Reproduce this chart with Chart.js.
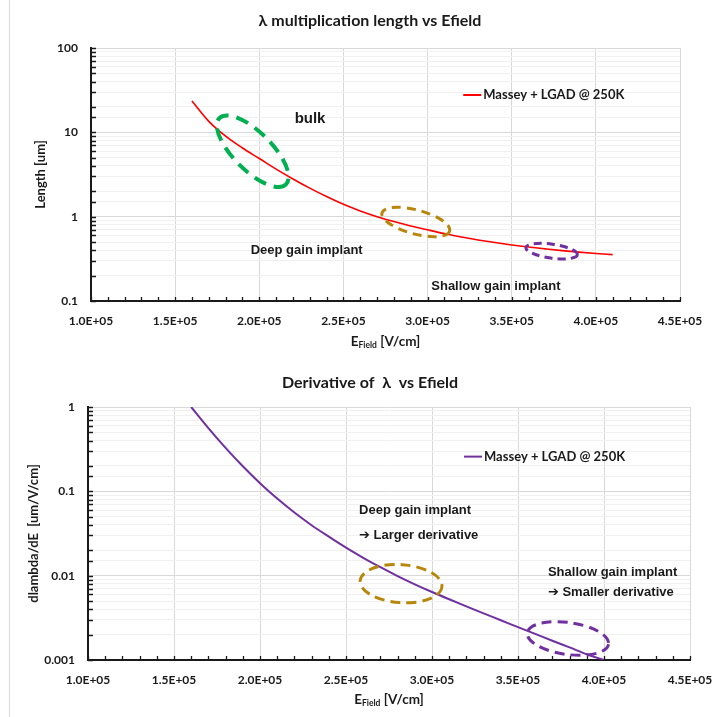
<!DOCTYPE html>
<html lang="en">
<head>
  <meta charset="UTF-8" />
  <title>Lambda multiplication length vs Efield</title>
  <script src="https://cdn.jsdelivr.net/npm/chart.js@4.4.1/dist/chart.umd.min.js"></script>
  <style>
    * { box-sizing: border-box; margin: 0; padding: 0; }
    body { width: 712px; height: 717px; background: #fff; position: relative; overflow: hidden; }
    .edge { position: absolute; left: 9px; top: 0; width: 1px; height: 717px; background: #d9d9d9; }
    .box { position: absolute; left: 0; width: 712px; }
    #topBox { top: 0; height: 360px; }
    #bottomBox { top: 360px; height: 357px; }
  </style>
</head>
<body>
  <div class="edge"></div>
  <div class="box" id="topBox"><canvas id="lenChart"></canvas></div>
  <div class="box" id="bottomBox"><canvas id="derivChart"></canvas></div>

  <script>
    // --- values ---
    const eFieldLen = [160000, 170000, 180000, 190000, 200000, 210000, 220000, 230000, 240000,
      250000, 260000, 270000, 280000, 290000, 300000, 310000, 320000, 330000, 340000,
      350000, 360000, 370000, 380000, 390000, 400000, 410000];
    const lambdaLen = [23.5, 13.5, 9.0, 6.52, 4.89, 3.66, 2.8, 2.18, 1.73,
      1.4, 1.17, 1.0, 0.875, 0.776, 0.698, 0.63, 0.574, 0.53, 0.493,
      0.462, 0.436, 0.415, 0.396, 0.38, 0.366, 0.355];

    const eFieldDeriv = [160000, 170000, 180000, 190000, 200000, 210000, 220000, 230000, 240000,
      250000, 260000, 270000, 280000, 290000, 300000, 310000, 320000, 330000, 340000,
      350000, 360000, 370000, 380000, 390000, 400000];
    const dLambdaDE = [1.0, 0.562, 0.327, 0.198, 0.125, 0.082, 0.056, 0.0396, 0.029,
      0.0215, 0.0163, 0.0126, 0.0099, 0.0079, 0.0064, 0.00525, 0.00433, 0.00357, 0.00296,
      0.00245, 0.00204, 0.00169, 0.00141, 0.00117, 0.001];

    const xRange = [100000, 450000];
    const lenRange = [0.1, 100];
    const derivRange = [0.001, 1];
    const seriesName = 'Massey + LGAD @ 250K';

    // --- shared styling ---
    const INK = '#1a1a1a';
    const LATO = 'Lato, "DejaVu Sans", sans-serif';
    const ARIAL = '"Liberation Sans", Arial, "DejaVu Sans", sans-serif';

    const isDecade = v => Math.abs(Math.log10(v) - Math.round(Math.log10(v))) < 1e-9;
    const fmtE = v => (v / 1e5).toFixed(1) + 'E+05';

    function xScale(h) {
      return {
        type: 'linear', min: xRange[0], max: xRange[1],
        // fixed height, and no extra room for the end labels
        afterFit: s => { s.height = h; s.paddingLeft = 0; s.paddingRight = 0; },
        border: { display: true, color: INK, width: 2 },
        grid: { color: '#d9d9d9', drawTicks: false },
        ticks: { stepSize: 50000, padding: 13, color: INK, maxRotation: 0, autoSkip: false,
          font: { family: LATO, size: 12, weight: 'bold' }, callback: v => fmtE(v) }
      };
    }

    function yScale(range, title, w) {
      return {
        type: 'logarithmic', min: range[0], max: range[1],
        afterFit: s => { s.width = w; s.paddingTop = 0; s.paddingBottom = 0; },
        border: { display: true, color: INK, width: 2 },
        grid: { drawTicks: false, color: c => (c.tick && !isDecade(c.tick.value)) ? '#f0f0f0' : '#d9d9d9' },
        ticks: { autoSkip: false, padding: 13, color: INK,
          font: { family: LATO, size: 12, weight: 'bold' },
          callback: v => isDecade(v) ? String(+v.toPrecision(3)) : '' },
        title: { display: true, text: title, color: INK, padding: { top: 4, bottom: 4 },
          font: { family: LATO, size: 13, weight: 'bold' } }
      };
    }

    // titles, legend, notes, dashed ellipses, inner tick marks
    const decor = {
      id: 'decor',
      afterDraw(chart) {
        const o = chart.options.plugins.decor;
        const { ctx, chartArea: a, scales: { x, y } } = chart;
        const px = v => x.getPixelForValue(v);
        const py = v => y.getPixelForValue(v);
        ctx.save();

        // inward tick marks
        ctx.strokeStyle = INK; ctx.lineWidth = 1.3; ctx.setLineDash([]);
        ctx.beginPath();
        y.ticks.forEach(t => {
          const yy = Math.round(py(t.value)) + 0.5;
          ctx.moveTo(a.left, yy); ctx.lineTo(a.left + 5, yy);
        });
        for (let v = xRange[0]; v <= xRange[1] + 1; v += o.minorStep) {
          const xx = Math.round(px(v)) + 0.5;
          ctx.moveTo(xx, a.bottom); ctx.lineTo(xx, a.bottom - 4);
        }
        ctx.stroke();

        // dashed ellipses
        o.ellipses.forEach(e => {
          ctx.beginPath();
          ctx.strokeStyle = e.color; ctx.lineWidth = e.width; ctx.setLineDash(e.dash);
          ctx.ellipse(px(e.x), py(e.y), e.rx, e.ry, e.rot * Math.PI / 180, 0, Math.PI * 2);
          ctx.stroke();
        });
        ctx.setLineDash([]);

        // chart title
        ctx.fillStyle = INK;
        ctx.textAlign = 'center'; ctx.textBaseline = 'middle';
        ctx.font = 'bold 16px ' + LATO;
        ctx.fillText(o.title, o.titleX, o.titleY);

        // text notes
        ctx.textAlign = 'left';
        o.notes.forEach(n => {
          ctx.font = 'bold ' + n.size + 'px ' + ARIAL;
          ctx.fillText(n.text, px(n.x), py(n.y));
        });

        // legend
        const ds = chart.data.datasets[0];
        const lx = px(o.legend.x), ly = py(o.legend.y);
        ctx.strokeStyle = ds.borderColor; ctx.lineWidth = 2;
        ctx.beginPath(); ctx.moveTo(lx, ly); ctx.lineTo(lx + 18, ly); ctx.stroke();
        ctx.font = 'bold 13px ' + LATO;
        ctx.fillText(ds.label, lx + 20, ly);

        // x axis title with subscript
        const parts = [['E', 'bold 13.5px ', 0], ['Field', 'bold 8.5px ', 3], [' [V/cm]', 'bold 13.5px ', 0]];
        let total = 0;
        parts.forEach(p => { ctx.font = p[1] + LATO; total += ctx.measureText(p[0]).width; });
        let cx = (a.left + a.right) / 2 - total / 2;
        const by = a.bottom + o.xTitleGap;
        parts.forEach(p => {
          ctx.font = p[1] + LATO;
          ctx.fillText(p[0], cx, by + p[2]);
          cx += ctx.measureText(p[0]).width;
        });
        ctx.restore();
      }
    };

    function makeChart(id, xs, ys, color, lineW, yOpts, deco, pad) {
      return new Chart(document.getElementById(id), {
        type: 'line',
        data: {
          datasets: [{
            label: seriesName,
            data: xs.map((v, i) => ({ x: v, y: ys[i] })),
            borderColor: color, borderWidth: lineW,
            pointRadius: 0, cubicInterpolationMode: 'monotone', fill: false
          }]
        },
        options: {
          responsive: true, maintainAspectRatio: false, animation: false,
          layout: { padding: pad },
          plugins: { legend: { display: false }, title: { display: false }, tooltip: { enabled: false }, decor: deco },
          scales: { x: xScale(yOpts.xh), y: yScale(yOpts.range, yOpts.title, yOpts.w) }
        },
        plugins: [decor]
      });
    }

    const BROWN = '#b8860b';

    makeChart('lenChart', eFieldLen, lambdaLen, '#ff0000', 1.6,
      { range: lenRange, title: 'Length [um]', w: 62, xh: 59 },
      {
        title: 'λ multiplication length vs Efield', titleX: 370, titleY: 21,
        minorStep: 10000, xTitleGap: 41,
        legend: { x: 321200, y: 27.7 },
        notes: [
          { text: 'bulk', x: 221000, y: 14.4, size: 15 },
          { text: 'Deep gain implant', x: 194900, y: 0.399, size: 13 },
          { text: 'Shallow gain implant', x: 302200, y: 0.149, size: 13 }
        ],
        ellipses: [
          { x: 196100, y: 5.97, rx: 47, ry: 19, rot: 45, color: '#00b050', width: 4, dash: [13, 8] },
          { x: 293000, y: 0.865, rx: 35, ry: 12, rot: 15, color: BROWN, width: 3, dash: [9, 6] },
          { x: 373700, y: 0.39, rx: 26, ry: 7, rot: 8, color: '#7030a0', width: 3, dash: [8, 5] }
        ]
      },
      { left: 29, right: 32, top: 48, bottom: 0 });

    makeChart('derivChart', eFieldDeriv, dLambdaDE, '#7030a0', 2,
      { range: derivRange, title: 'dlambda/dE  [um/V/cm]', w: 66, xh: 57 },
      {
        title: 'Derivative of  λ  vs Efield', titleX: 370, titleY: 23,
        minorStep: 10000, xTitleGap: 40,
        legend: { x: 318600, y: 0.258 },
        notes: [
          { text: 'Deep gain implant', x: 257600, y: 0.0586, size: 13 },
          { text: '➔ Larger derivative', x: 257600, y: 0.0304, size: 13 },
          { text: 'Shallow gain implant', x: 367400, y: 0.0108, size: 13 },
          { text: '➔ Smaller derivative', x: 367400, y: 0.00625, size: 13 }
        ],
        ellipses: [
          { x: 282000, y: 0.00804, rx: 41, ry: 19, rot: 4, color: BROWN, width: 3, dash: [10, 6] },
          { x: 379000, y: 0.0018, rx: 41, ry: 16, rot: 8, color: '#7030a0', width: 3, dash: [10, 6] }
        ]
      },
      { left: 22, right: 22, top: 47, bottom: 0 });
  </script>
</body>
</html>
